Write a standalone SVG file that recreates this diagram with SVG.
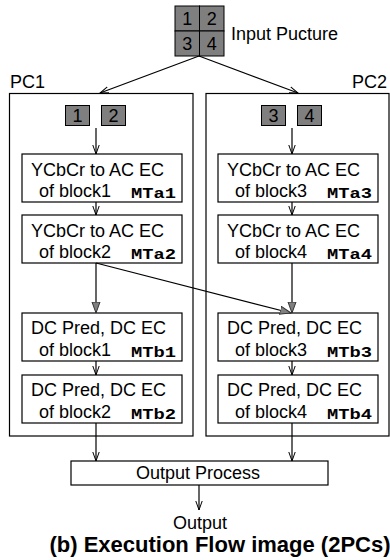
<svg xmlns="http://www.w3.org/2000/svg" width="390" height="560" viewBox="0 0 390 560">
<style>
text{font-family:"Liberation Sans",Arial,sans-serif;font-size:18px;fill:#000}
.box{fill:#fff;stroke:#000;stroke-width:1.2}
.cell{fill:#7f7f7f;stroke:#000;stroke-width:1}
.mt{font-family:"Liberation Mono","Courier New",monospace;font-weight:bold;font-size:14.5px}
.c{stroke:#000;stroke-width:1.2;fill:none}
.title{font-weight:bold;font-size:22px}
</style>
<defs>
<marker id="v" markerUnits="userSpaceOnUse" markerWidth="12" markerHeight="10" refX="9" refY="4" orient="auto">
<path d="M0,0.8 L9,4 L0,7.2" fill="none" stroke="#000" stroke-width="1"/>
</marker>
<marker id="t" markerUnits="userSpaceOnUse" markerWidth="14" markerHeight="12" refX="11" refY="4.5" orient="auto">
<path d="M0,0.5 L11,4.5 L0,8.5 z" fill="#808080" stroke="#333" stroke-width="1"/>
</marker>
</defs>

<g id="input">
<rect class="cell" x="175" y="6" width="24.5" height="25"/>
<rect class="cell" x="199.5" y="6" width="24.5" height="25"/>
<rect class="cell" x="175" y="31" width="24.5" height="25"/>
<rect class="cell" x="199.5" y="31" width="24.5" height="25"/>
<text x="187.2" y="25" text-anchor="middle">1</text>
<text x="211.7" y="25" text-anchor="middle">2</text>
<text x="187.2" y="50" text-anchor="middle">3</text>
<text x="211.7" y="50" text-anchor="middle">4</text>
<text x="231" y="40">Input Pucture</text>
</g>

<g id="pc1">
<rect class="box" x="9.5" y="93.5" width="183.5" height="342.5"/>
<text x="10" y="88">PC1</text>
<rect class="cell" x="65.5" y="105.5" width="24" height="20"/>
<rect class="cell" x="101.5" y="105.5" width="24" height="20"/>
<text x="77.5" y="122" text-anchor="middle">1</text>
<text x="113.5" y="122" text-anchor="middle">2</text>
</g>

<g id="pc2">
<rect class="box" x="206" y="93.5" width="183" height="342.5"/>
<text x="387" y="88" text-anchor="end">PC2</text>
<rect class="cell" x="261.5" y="105.5" width="24" height="20"/>
<rect class="cell" x="297.5" y="105.5" width="24" height="20"/>
<text x="273.5" y="122" text-anchor="middle">3</text>
<text x="309.5" y="122" text-anchor="middle">4</text>
</g>

<g id="mta1">
<rect class="box" x="22" y="154" width="160" height="48"/>
<text x="31" y="176">YCbCr to AC EC</text>
<text x="39" y="197">of block1</text>
<text class="mt" x="176" y="197.5" text-anchor="end" textLength="45" lengthAdjust="spacingAndGlyphs">MTa1</text>
</g>
<g id="mta2">
<rect class="box" x="22" y="215" width="160" height="48"/>
<text x="31" y="237">YCbCr to AC EC</text>
<text x="39" y="258">of block2</text>
<text class="mt" x="176" y="258.5" text-anchor="end" textLength="45" lengthAdjust="spacingAndGlyphs">MTa2</text>
</g>
<g id="mtb1">
<rect class="box" x="22" y="313" width="160" height="48"/>
<text x="31" y="334">DC Pred, DC EC</text>
<text x="39" y="356">of block1</text>
<text class="mt" x="176" y="356.5" text-anchor="end" textLength="45" lengthAdjust="spacingAndGlyphs">MTb1</text>
</g>
<g id="mtb2">
<rect class="box" x="22" y="375" width="160" height="48"/>
<text x="31" y="396">DC Pred, DC EC</text>
<text x="39" y="418">of block2</text>
<text class="mt" x="176" y="418.5" text-anchor="end" textLength="45" lengthAdjust="spacingAndGlyphs">MTb2</text>
</g>

<g id="mta3">
<rect class="box" x="218" y="154" width="160" height="48"/>
<text x="227" y="176">YCbCr to AC EC</text>
<text x="235" y="197">of block3</text>
<text class="mt" x="372" y="197.5" text-anchor="end" textLength="45" lengthAdjust="spacingAndGlyphs">MTa3</text>
</g>
<g id="mta4">
<rect class="box" x="218" y="215" width="160" height="48"/>
<text x="227" y="237">YCbCr to AC EC</text>
<text x="235" y="258">of block4</text>
<text class="mt" x="372" y="258.5" text-anchor="end" textLength="45" lengthAdjust="spacingAndGlyphs">MTa4</text>
</g>
<g id="mtb3">
<rect class="box" x="218" y="313" width="160" height="48"/>
<text x="227" y="334">DC Pred, DC EC</text>
<text x="235" y="356">of block3</text>
<text class="mt" x="372" y="356.5" text-anchor="end" textLength="45" lengthAdjust="spacingAndGlyphs">MTb3</text>
</g>
<g id="mtb4">
<rect class="box" x="218" y="375" width="160" height="48"/>
<text x="227" y="396">DC Pred, DC EC</text>
<text x="235" y="418">of block4</text>
<text class="mt" x="372" y="418.5" text-anchor="end" textLength="45" lengthAdjust="spacingAndGlyphs">MTb4</text>
</g>

<g id="output-process">
<rect class="box" x="71" y="461" width="257" height="24"/>
<text x="198" y="479" text-anchor="middle">Output Process</text>
</g>
<g id="output">
<text x="200" y="529" text-anchor="middle">Output</text>
</g>

<g id="connectors">
<line class="c" x1="199" y1="56" x2="100" y2="93" marker-end="url(#v)"/>
<line class="c" x1="199" y1="56" x2="298" y2="93" marker-end="url(#v)"/>
<line class="c" x1="96" y1="128" x2="96" y2="154" marker-end="url(#v)"/>
<line class="c" x1="292" y1="128" x2="292" y2="154" marker-end="url(#v)"/>
<line class="c" x1="96" y1="202" x2="96" y2="215" marker-end="url(#v)"/>
<line class="c" x1="292" y1="202" x2="292" y2="215" marker-end="url(#v)"/>
<line class="c" x1="96" y1="263" x2="96" y2="313" marker-end="url(#t)"/>
<line class="c" x1="292" y1="263" x2="292" y2="313" marker-end="url(#t)"/>
<line class="c" x1="96" y1="263" x2="291" y2="313" marker-end="url(#t)"/>
<line class="c" x1="96" y1="361" x2="96" y2="375" marker-end="url(#v)"/>
<line class="c" x1="292" y1="361" x2="292" y2="375" marker-end="url(#v)"/>
<line class="c" x1="96" y1="423" x2="96" y2="461" marker-end="url(#v)"/>
<line class="c" x1="292" y1="423" x2="292" y2="461" marker-end="url(#v)"/>
<line class="c" x1="199" y1="485" x2="199" y2="510" marker-end="url(#v)"/>
</g>

<text class="title" x="220" y="552" text-anchor="middle">(b) Execution Flow image (2PCs)</text>
</svg>
